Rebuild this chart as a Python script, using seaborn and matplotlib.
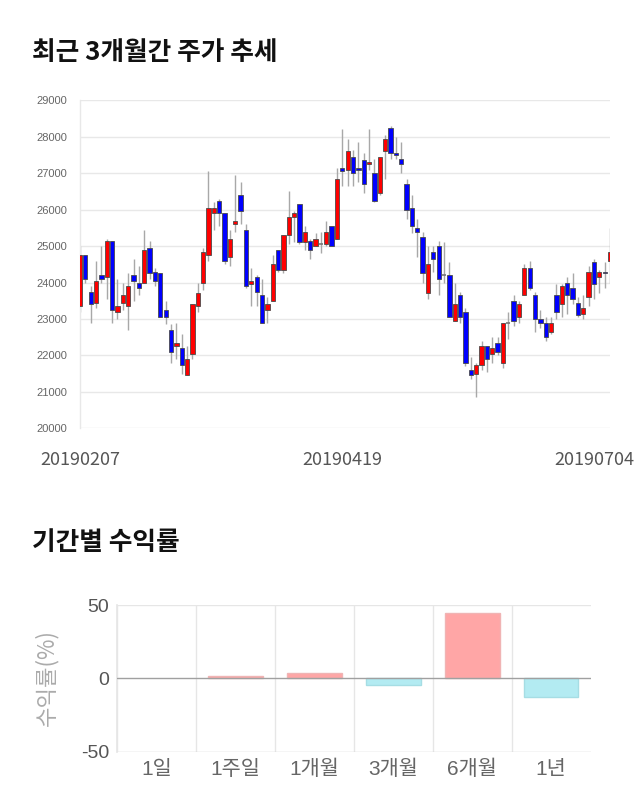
import numpy as np
import pandas as pd
import matplotlib
matplotlib.use("Agg")
import matplotlib.pyplot as plt
import matplotlib.transforms as mtransforms
import seaborn as sns

# ---------------- data ----------------
dates_labels = ["20190207", "20190419", "20190704"]
date_label_pos = [0, 49, 99]

opens = [23350, 24750, 23750, 23450, 24200, 24150, 25150, 23200, 23450, 23350,
         24200, 24000, 24000, 24950, 24300, 24250, 23250, 22700, 22250, 22200,
         21450, 22050, 23350, 24000, 24750, 25900, 26250, 25900, 24700, 25600,
         26400, 25450, 23950, 24150, 23650, 23250, 23500, 24900, 24350, 25300,
         25800, 26150, 25100, 25150, 25000, 25050, 25050, 25550, 25200, 27150,
         27100, 27450, 27150, 27350, 27250, 27000, 26450, 27600, 28250, 27550,
         27400, 26700, 26050, 25500, 25250, 23700, 24850, 25000, 24200, 24200,
         22950, 23650, 23200, 21600, 21500, 21750, 22250, 22050, 22350, 21800,
         22900, 23500, 23050, 23650, 24400, 23650, 23000, 22900, 22650, 23650,
         23400, 24000, 23850, 23450, 23150, 23600, 24550, 24150, 24300, 24600]
highs = [25000, 24750, 23900, 24600, 25000, 25200, 25150, 24100, 24000, 24250,
         24650, 24450, 25450, 25150, 24400, 24250, 23500, 22850, 22900, 22600,
         22250, 23400, 24000, 24950, 27050, 26200, 26300, 25900, 25450, 26950,
         26750, 25600, 24400, 24200, 24100, 23600, 24750, 24900, 25300, 26500,
         25950, 26150, 25550, 25200, 25350, 25400, 25700, 25550, 27150, 28200,
         27950, 27650, 27850, 27550, 28200, 27400, 27450, 28050, 28300, 28000,
         27850, 26850, 26400, 25750, 25400, 25000, 25000, 25150, 25100, 24550,
         24000, 23750, 23300, 21950, 21800, 22400, 22250, 22500, 22500, 22900,
         23200, 23650, 23500, 24500, 24600, 23750, 23250, 23050, 23050, 23950,
         23950, 24150, 24250, 23600, 23650, 24450, 24650, 24350, 24550, 25500]
lows = [23200, 24000, 22900, 23300, 24000, 23550, 22900, 23000, 23250, 22700,
        23500, 23650, 24000, 24100, 23900, 23050, 22850, 21800, 21900, 21500,
        21450, 21900, 23200, 23800, 24600, 25450, 25550, 24500, 24450, 25400,
        25600, 23850, 23350, 23350, 22900, 22900, 23500, 24300, 24250, 25050,
        25100, 25050, 24900, 24650, 25000, 24800, 25000, 25000, 25200, 26650,
        26650, 26650, 26750, 26450, 27100, 26200, 26400, 26850, 27400, 27400,
        27000, 25750, 25350, 24700, 24000, 23550, 24300, 23650, 24000, 23050,
        22950, 22900, 21700, 21350, 20850, 21600, 21550, 21800, 22000, 21650,
        22450, 22800, 22900, 23650, 23800, 22650, 22750, 22400, 22600, 23000,
        23050, 23150, 23400, 23050, 23000, 23350, 23550, 23700, 23850, 24000]
closes = [24750, 24100, 23400, 24050, 24100, 25150, 23250, 23350, 23650, 23900,
          24050, 23850, 24900, 24250, 24050, 23050, 23050, 22100, 22350, 21750,
          21900, 23400, 23700, 24850, 26050, 26050, 25900, 24600, 25200, 25700,
          25950, 23900, 24050, 23750, 22900, 23400, 24500, 24350, 25300, 25800,
          25900, 25100, 25400, 24900, 25200, 25050, 25400, 25000, 26850, 27050,
          27600, 27000, 27100, 26700, 27300, 26250, 27450, 27950, 27550, 27500,
          27250, 26000, 25550, 25400, 24250, 24500, 24650, 24100, 24200, 23050,
          23400, 23050, 21800, 21450, 21750, 22250, 21900, 22200, 22100, 22900,
          22900, 22950, 23400, 24400, 23850, 23000, 22900, 22500, 22900, 23200,
          23900, 23650, 23550, 23100, 23300, 24300, 23950, 24300, 24250, 24850]

periods = ["1일", "1주일", "1개월", "3개월", "6개월", "1년"]
returns = [0.0, 1.6, 3.9, -4.5, 44.8, -12.7]

# ---------------- style ----------------
sns.set_theme(style="white")
plt.rcParams["font.family"] = ["Noto Sans CJK KR", "DejaVu Sans"]
plt.rcParams["axes.unicode_minus"] = False

W, H = 640, 810
fig = plt.figure(figsize=(W / 100, H / 100), dpi=100)
fig.patch.set_facecolor("white")

# ---------------- candle chart ----------------
ax1 = fig.add_axes([80 / W, 1 - 428.3 / H, 530 / W, 328 / H])
ax1.set_facecolor("white")
x = np.arange(len(opens))
o = np.array(opens, float)
c = np.array(closes, float)
hi = np.array(highs, float)
lo = np.array(lows, float)

ax1.vlines(x, lo, hi, color="#a8a8a8", lw=1.0, zorder=2)
up = c > o
down = c < o
flat = c == o
ax1.bar(x[up], (c - o)[up], bottom=o[up], width=0.8, color="#ff0000",
        edgecolor="#4a4a4a", linewidth=0.6, zorder=3)
ax1.bar(x[down], (o - c)[down], bottom=c[down], width=0.8, color="#0000ff",
        edgecolor="#4a4a4a", linewidth=0.6, zorder=3)
ax1.hlines(c[flat], x[flat] - 0.4, x[flat] + 0.4, color="#777777", lw=1.2, zorder=3)

ax1.set_xlim(0, 99)
ax1.set_ylim(20000, 29000)
ax1.set_yticks(range(20000, 29001, 1000))
ax1.set_yticklabels([str(v) for v in range(20000, 29001, 1000)],
                    family=["Liberation Sans", "DejaVu Sans"])
ax1.grid(axis="y", color="#e8e8e8", lw=1, zorder=0)
ax1.grid(axis="x", visible=False)
for s in ["top", "right", "bottom"]:
    ax1.spines[s].set_visible(False)
ax1.spines["left"].set_color("#e8e8e8")
ax1.spines["left"].set_linewidth(1)
ax1.tick_params(axis="y", length=8.5, color="#e8e8e8", width=1, labelsize=8,
                labelcolor="#666666", pad=0.5)
ax1.set_xticks(date_label_pos)
ax1.set_xticklabels(dates_labels)
ax1.tick_params(axis="x", length=0, pad=16, labelsize=13, labelcolor="#555555")
lbls = ax1.get_xticklabels()
lbls[-1].set_transform(lbls[-1].get_transform() +
                       mtransforms.ScaledTranslation(-16 / 100, 0, fig.dpi_scale_trans))

fig.text(32 / W, 1 - 52 / H, "최근 3개월간 주가 추세", fontsize=18.5, fontweight="bold",
         ha="left", va="center", color="#111111")

# ---------------- returns bar chart ----------------
ax2 = fig.add_axes([117.3 / W, 1 - 751.7 / H, 473.4 / W, 146.7 / H])
ax2.set_facecolor("white")
df = pd.DataFrame({"period": periods, "ret": returns})
df["sign"] = np.where(df["ret"] >= 0, "pos", "neg")
sns.barplot(data=df, x="period", y="ret", hue="sign", order=periods,
            hue_order=["pos", "neg"], palette={"pos": "#ffa6a6", "neg": "#b3ebf2"},
            saturation=1, dodge=False, width=0.69, legend=False, ax=ax2, zorder=3)
for p in ax2.patches:
    h = p.get_height()
    if h > 0:
        p.set_edgecolor("#f0b4b4")
        p.set_linewidth(1)
    elif h < 0:
        p.set_edgecolor("#a6dde4")
        p.set_linewidth(1)
    else:
        p.set_linewidth(0)

ax2.set_xlim(-0.5, 5.5)
ax2.set_ylim(-50, 50)
ax2.set_yticks([-50, 0, 50])
ax2.set_yticklabels(["-50", "0", "50"], family=["Liberation Sans", "DejaVu Sans"])
ax2.tick_params(axis="y", length=5, color="#cccccc", labelsize=14,
                labelcolor="#555555", pad=1)
ax2.axhline(0, color="#a0a0a0", lw=1, zorder=4)
ax2.axhline(50, color="#e6e6e6", lw=1, zorder=1)
ax2.axhline(-50, color="#d0d0d0", lw=1, zorder=1)
ax2.set_xticks(range(len(periods)))
ax2.set_xticklabels(periods, family=["Liberation Sans", "Noto Sans CJK KR"])
ax2.tick_params(axis="x", which="major", length=0, labelsize=15,
                labelcolor="#666666", pad=6)
ax2.set_xticks(np.arange(-0.5, 5.0, 1.0), minor=True)
ax2.tick_params(axis="x", which="minor", length=10, color="#e6e6e6", width=1)
ax2.grid(axis="x", which="minor", color="#e6e6e6", lw=1, zorder=0)
ax2.grid(axis="x", which="major", visible=False)
ax2.grid(axis="y", visible=False)
for s in ["top", "right", "bottom"]:
    ax2.spines[s].set_visible(False)
ax2.spines["left"].set_color("#e6e6e6")
ax2.set_xlabel("")
ax2.set_ylabel("")
fig.text(46 / W, 1 - 678 / H, "수익률(%)", rotation=90, fontsize=16, color="#ababab",
         ha="center", va="center")

fig.text(32 / W, 1 - 543 / H, "기간별 수익률", fontsize=18.5, fontweight="bold",
         ha="left", va="center", color="#111111")

fig.savefig("out.png", dpi=100, facecolor="white")
